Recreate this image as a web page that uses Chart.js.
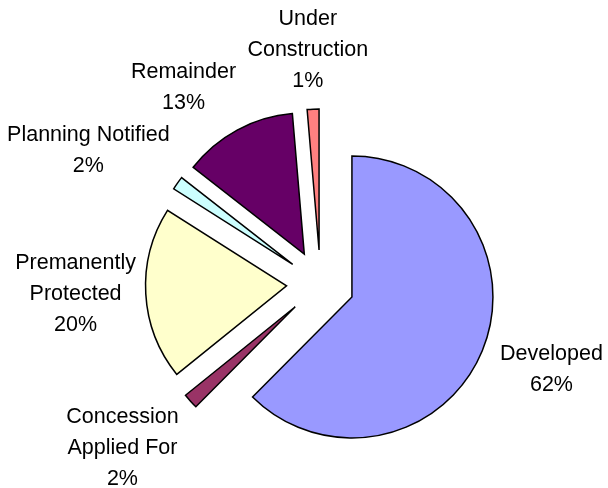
<!DOCTYPE html>
<html>
<head>
<meta charset="utf-8">
<script src="https://cdn.jsdelivr.net/npm/chart.js@4/dist/chart.umd.min.js"></script>
<style>
  html, body { margin: 0; padding: 0; background: #fff; }
  #wrap { width: 608px; height: 488px; position: relative; }
</style>
</head>
<body>
<div id="wrap"><canvas id="pie"></canvas></div>
<script>
// land status shares, clockwise from 12 o'clock
const categories = ['Developed', 'Concession Applied For', 'Premanently Protected', 'Planning Notified', 'Remainder', 'Under Construction'];
const labelLines = [['Developed'], ['Concession', 'Applied For'], ['Premanently', 'Protected'], ['Planning Notified'], ['Remainder'], ['Under', 'Construction']];
const shares = [62.45, 1.75, 19.8, 1.55, 13.1, 1.35];
const sliceColors = ['#9999FF', '#993366', '#FFFFCC', '#CCFFFF', '#660066', '#FF8080'];

// pull every slice out from the centre (excel "exploded pie")
const explodePlugin = {
    id: 'explode',
    beforeDatasetsDraw(chart, args, opts) {
        const area = chart.chartArea;
        const cx = (area.left + area.right) / 2;
        const cy = (area.top + area.bottom) / 2;
        chart.getDatasetMeta(0).data.forEach(arc => {
            const mid = (arc.startAngle + arc.endAngle) / 2;
            arc.x = cx + Math.cos(mid) * opts.distance;
            arc.y = cy + Math.sin(mid) * opts.distance;
        });
    }
};

// name + percent outside each slice
const labelPlugin = {
    id: 'sliceLabels',
    afterDatasetsDraw(chart, args, opts) {
        const ctx = chart.ctx;
        const total = shares.reduce((a, b) => a + b, 0);
        ctx.save();
        ctx.font = opts.font;
        ctx.fillStyle = '#000';
        ctx.textAlign = 'center';
        ctx.textBaseline = 'alphabetic';
        chart.getDatasetMeta(0).data.forEach((arc, i) => {
            const mid = (arc.startAngle + arc.endAngle) / 2;
            const dx = Math.cos(mid), dy = Math.sin(mid);
            const lines = labelLines[i].concat(Math.round(shares[i] / total * 100) + '%');
            const w = Math.max(...lines.map(l => ctx.measureText(l).width));
            const h = lines.length * opts.lineHeight;
            const reach = arc.outerRadius + opts.gap;
            const nudge = opts.nudge[i] || [0, 0];
            const lx = arc.x + dx * reach + dx * w / 2 + nudge[0];
            const ly = arc.y + dy * reach + dy * h / 2 + nudge[1];
            lines.forEach((line, k) => {
                const y = ly + (k - (lines.length - 1) / 2) * opts.lineHeight + opts.capHalf;
                ctx.fillText(line, lx, y);
            });
        });
        ctx.restore();
    }
};

new Chart(document.getElementById('pie'), {
    type: 'pie',
    data: {
        labels: categories,
        datasets: [{
            data: shares,
            backgroundColor: sliceColors,
            borderColor: '#000',
            borderWidth: 1.5,
            borderJoinStyle: 'miter'
        }]
    },
    options: {
        responsive: true,
        maintainAspectRatio: false,
        animation: false,
        events: [],
        radius: 141,
        layout: { padding: { left: 33, right: 0, top: 80, bottom: 0 } },
        plugins: {
            legend: { display: false },
            tooltip: { enabled: false },
            explode: { distance: 34 },
            sliceLabels: {
                font: '21.5px "Liberation Sans", Arial, sans-serif',
                lineHeight: 31,
                capHalf: 7.5,
                gap: 18,
                nudge: [[5, -1], [-13, 2], [8, -5], [-8, -6], [-20, -1], [-2, 4]]
            }
        }
    },
    plugins: [explodePlugin, labelPlugin]
});
</script>
</body>
</html>
